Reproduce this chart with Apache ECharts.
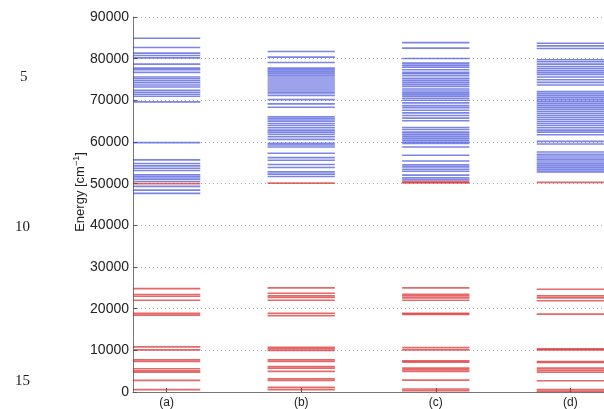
<!DOCTYPE html>
<html>
<head>
<meta charset="utf-8">
<script src="https://cdn.jsdelivr.net/npm/echarts@6/dist/echarts.min.js"></script>
<style>html,body{margin:0;padding:0;background:#fff}#c{width:604px;height:409px}</style>
</head>
<body>
<div id="c"></div>
<script>
var categories = ['(a)', '(b)', '(c)', '(d)'];
var yTicks = [0, 10000, 20000, 30000, 40000, 50000, 60000, 70000, 80000, 90000];
var lineNumbers = ['5', '10', '15'];

var blueA = [84900, 82670, 81330, 80770, 80200, 78700, 77740, 77340, 76700, 75590, 75190, 74710, 74230, 73690, 73210, 72420, 71940, 71460, 70980, 69640, 59840, 55700, 54830, 54260, 53700, 53160, 52110, 51630, 51080, 50530, 49340, 48460, 47670];
var blueB = [81720, 80370, 79080, 77740, 77340, 76940, 76540, 76060, 75590, 75110, 74630, 74150, 73690, 73210, 72730, 72250, 71780, 71200, 70180, 69150, 68340, 66040, 65560, 65000, 64450, 63970, 63420, 62850, 62370, 61820, 61270, 60630, 59680, 59270, 58790, 57290, 56260, 55620, 54590, 53870, 52830, 52280, 51720];
var blueC = [83860, 82520, 80040, 78940, 78460, 77980, 77340, 76700, 76380, 75900, 75260, 74790, 74310, 73830, 73350, 72730, 72250, 71780, 71370, 70980, 70490, 70010, 69390, 68740, 68260, 67620, 67000, 66360, 65720, 65090, 63490, 63010, 62370, 61890, 61420, 60940, 60460, 59990, 59680, 58790, 56810, 55450, 54500, 54020, 53470, 52990, 52040, 51400, 50920];
var blueD = [83700, 83070, 82440, 79730, 79250, 78700, 78120, 77640, 77170, 76700, 76220, 75590, 74950, 74310, 73690, 72090, 71610, 71130, 70650, 70180, 69700, 69220, 68740, 68260, 67790, 67310, 66830, 66360, 65880, 65400, 64930, 64450, 63970, 63420, 62850, 62370, 61740, 60150, 59510, 57600, 57050, 56650, 56170, 55700, 55210, 54740, 54260, 53790, 53310, 52830];

var redA = [50000, 24820, 23390, 22990, 22030, 18860, 18460, 10820, 10100, 7710, 7320, 5570, 5090, 4770, 2790, 560];
var redB = [50130, 24980, 23710, 23080, 22680, 22030, 18860, 18300, 10740, 10340, 9950, 7710, 7320, 6130, 5730, 4940, 3180, 2790, 1120, 560];
var redC = [50440, 50200, 24980, 23470, 23080, 22600, 22030, 18860, 18620, 10660, 10100, 7470, 7160, 5730, 5330, 4940, 2860, 720, 320];
var redD = [50300, 24660, 23080, 22600, 21890, 18700, 10340, 10100, 7320, 7080, 5730, 5250, 4770, 2700, 560, 160];

var blueSets = [blueA, blueB, blueC, blueD];
var redSets = [redA, redB, redC, redD];

function toData(sets) {
  var out = [];
  sets.forEach(function (arr, i) {
    arr.forEach(function (v) { out.push([i + 1, v]); });
  });
  return out;
}

function seg(color) {
  return function (params, api) {
    var x = api.value(0), y = api.value(1);
    var p1 = api.coord([x - 0.25, y]);
    var p2 = api.coord([x + 0.25, y]);
    return {
      type: 'line',
      shape: { x1: p1[0], y1: p1[1], x2: p2[0], y2: p2[1] },
      style: { stroke: color, lineWidth: 1.6 }
    };
  };
}

var chart = echarts.init(document.getElementById('c'), null, { renderer: 'canvas' });
var FONT = 'Liberation Sans, Arial, sans-serif';
chart.setOption({
  animation: false,
  backgroundColor: '#fff',
  grid: { left: 133, right: 0, top: 17, bottom: 15, containLabel: false },
  xAxis: {
    type: 'value', min: 0.75, max: 4.25,
    splitLine: { show: false },
    axisLine: { show: true, onZero: false, lineStyle: { color: '#777', width: 1 } },
    axisTick: { show: true, inside: true, length: 4, customValues: [1, 2, 3, 4], lineStyle: { color: '#555' } },
    axisLabel: {
      show: true, customValues: [1, 2, 3, 4], margin: 5,
      fontFamily: FONT, fontSize: 12, color: '#222',
      formatter: function (v) { return categories[Math.round(v) - 1] || ''; }
    }
  },
  yAxis: {
    type: 'value', min: 0, max: 90000, interval: 10000,
    axisLine: { show: true, lineStyle: { color: '#777', width: 1 } },
    axisTick: { show: true, inside: true, length: 4, lineStyle: { color: '#555' } },
    axisLabel: {
      fontFamily: FONT, fontSize: 14, color: '#222', margin: 4,
      formatter: function (v) { return yTicks.indexOf(v) >= 0 ? String(v) : ''; }
    },
    splitLine: { show: true, lineStyle: { type: [1, 3], color: '#aaa', width: 1 } }
  },
  series: [
    { type: 'custom', renderItem: seg('rgba(215,35,35,0.68)'), data: toData(redSets), clip: false, silent: true },
    { type: 'custom', renderItem: seg('rgba(55,70,215,0.66)'), data: toData(blueSets), clip: false, silent: true }
  ],
  graphic: [
    {
      type: 'text', x: 80, y: 192, rotation: Math.PI / 2,
      style: {
        text: 'Energy [cm{sup|−1}]', align: 'center', verticalAlign: 'middle',
        font: '13px "Liberation Sans", Arial, sans-serif', fill: '#222',
        rich: { sup: { font: '9px "Liberation Sans", Arial, sans-serif', fill: '#222', verticalAlign: 'top', padding: [0, 0, 6, 0] } }
      }
    },
    { type: 'text', left: 20, top: 70, style: { text: lineNumbers[0], font: '15px "Liberation Serif", serif', fill: '#222' } },
    { type: 'text', left: 15, top: 220, style: { text: lineNumbers[1], font: '15px "Liberation Serif", serif', fill: '#222' } },
    { type: 'text', left: 15, top: 374, style: { text: lineNumbers[2], font: '15px "Liberation Serif", serif', fill: '#222' } }
  ]
});
</script>
</body>
</html>
